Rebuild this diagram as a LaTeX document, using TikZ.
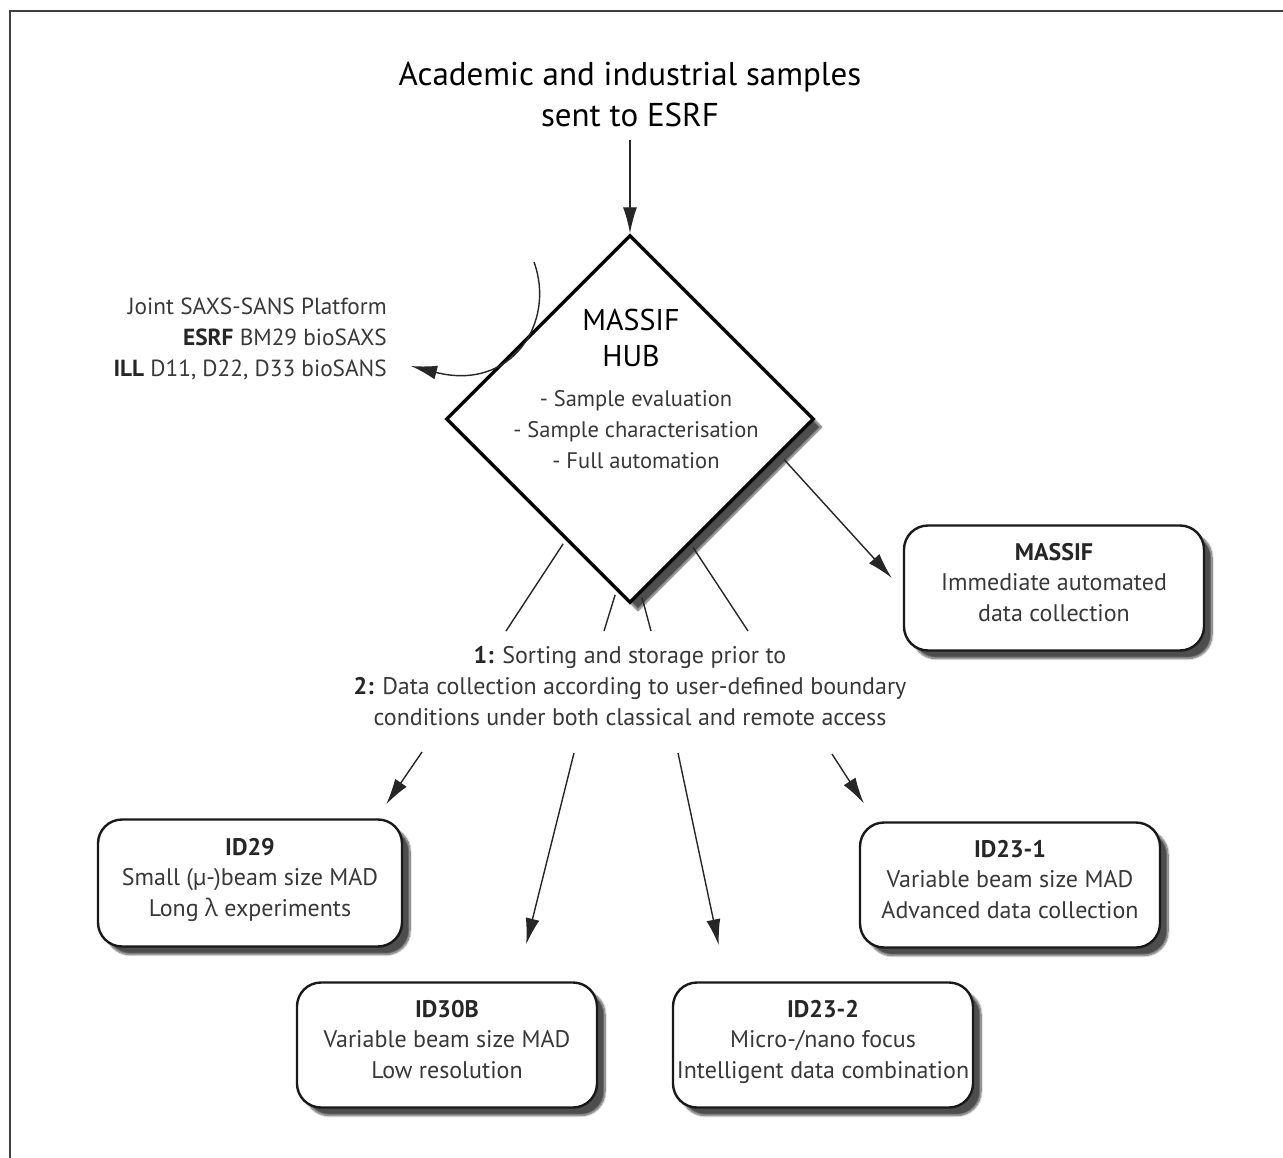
\documentclass[tikz,border=0pt]{standalone}
\usepackage{fontspec}
\setmainfont{PT Sans}
\newfontfamily\grk{Open Sans}
\usetikzlibrary{shapes.geometric,shadows.blur,arrows.meta,calc}
\definecolor{txt}{gray}{0.22}
\begin{document}
\begin{tikzpicture}[x=1pt,y=-1pt,
  body/.style={font=\fontsize{24}{31}\selectfont, text=txt, align=center, inner sep=0pt},
  title/.style={font=\fontsize{33}{41}\selectfont, text=black, align=center, inner sep=0pt},
  boxnode/.style={draw=black!90, line width=2.4pt, fill=white, rounded corners=24pt,
    minimum width=300pt, minimum height=125pt, align=center, inner sep=0pt,
    text depth=12pt,
    font=\fontsize{24}{30.5}\selectfont, text=txt,
    blur shadow={shadow xshift=8pt, shadow yshift=-8pt, shadow blur steps=10, shadow opacity=70}},
  hubnode/.style={diamond, draw=black, line width=3.4pt, fill=white, inner sep=0pt,
    minimum width=368pt, minimum height=368pt,
    blur shadow={shadow xshift=8pt, shadow yshift=-8pt, shadow blur steps=10, shadow opacity=70}},
  arr/.style={draw=black!85, line width=1.4pt, -{Latex[length=26pt,width=14pt]}},
  plain/.style={draw=black!85, line width=1.4pt}
]
\useasboundingbox (0,0) rectangle (1283,1158);
\draw[line width=2pt, black!75] (9.5,1158) -- (9.5,11.5) -- (1283,11.5);

% title
\node[title] (src) at (630,94) {Academic and industrial samples\\sent to ESRF};

% hub
\node[hubnode] (hub) at (630,419) {};
\node[font=\fontsize{30}{36}\selectfont, text=black, align=center, inner sep=0pt] (hubt) at (631,338) {MASSIF\\HUB};
\node[body, font=\fontsize{22.5}{31}\selectfont] (hubl) at (636,430) {- Sample evaluation\\- Sample characterisation\\- Full automation};

\coordinate (srcb) at (630,140);
\draw[arr] (srcb) -- (hub.north);

% left text
\node[body, font=\fontsize{23.3}{31}\selectfont, align=right, anchor=east] (saxs) at (387,339) {Joint SAXS-SANS Platform\\{\bfseries\color{black!85}ESRF} BM29 bioSAXS\\{\bfseries\color{black!85}ILL} D11, D22, D33 bioSANS};
\coordinate (cstart) at (534,262);
\coordinate (ctip) at (411,366);
\draw[arr] (cstart) .. controls (556,322) and (512,392) .. (ctip);

% MASSIF box
\node[boxnode] (massif) at (1054,588) {{\bfseries\color{black!85}MASSIF}\\Immediate automated\\data collection};
\draw[arr] ($(hub.east)!0.17!(hub.south)+(0,9)$) -- ([xshift=-11pt,yshift=10pt]massif.west);

% central text
\node[body] (sort) at (630,686) {{\bfseries\color{black!85}1:} Sorting and storage prior to\\{\bfseries\color{black!85}2:} Data collection according to user-defined boundary\\conditions under both classical and remote access};

\coordinate (l1) at (506,631);
\coordinate (l2) at (604,631);
\coordinate (l3) at (651,631);
\coordinate (l4) at (748,631);
\draw[plain] ($(hub.west)!0.64!(hub.south)+(0,6)$) -- (l1);
\draw[plain] ($(hub.west)!0.92!(hub.south)+(0,5)$) -- (l2);
\draw[plain] ($(hub.south)!0.065!(hub.east)+(0,5)$) -- (l3);
\draw[plain] ($(hub.south)!0.34!(hub.east)+(0,6)$) -- (l4);

% boxes
\node[boxnode, minimum width=304pt, minimum height=127pt] (id29) at (250,883) {{\bfseries\color{black!85}ID29}\\Small (µ-)beam size MAD\\Long {\grk λ} experiments};
\node[boxnode] (id30b) at (447,1045) {{\bfseries\color{black!85}ID30B}\\Variable beam size MAD\\Low resolution};
\node[boxnode] (id232) at (823,1045) {{\bfseries\color{black!85}ID23-2}\\Micro-/nano focus\\Intelligent data combination};
\node[boxnode] (id231) at (1010,885) {{\bfseries\color{black!85}ID23-1}\\Variable beam size MAD\\Advanced data collection};

\coordinate (s1) at (422,752);
\coordinate (s2) at (574,753);
\coordinate (s3) at (678,753);
\coordinate (s4) at (832,754);
\draw[arr] (s1) -- ([xshift=-17pt,yshift=14pt]id29.north east);
\draw[arr] (s2) -- ([xshift=-72pt,yshift=37pt]id30b.north east);
\draw[arr] (s3) -- ([xshift=47pt,yshift=36pt]id232.north west);
\draw[arr] (s4) -- ([xshift=5pt,yshift=18pt]id231.north west);
\end{tikzpicture}
\end{document}
